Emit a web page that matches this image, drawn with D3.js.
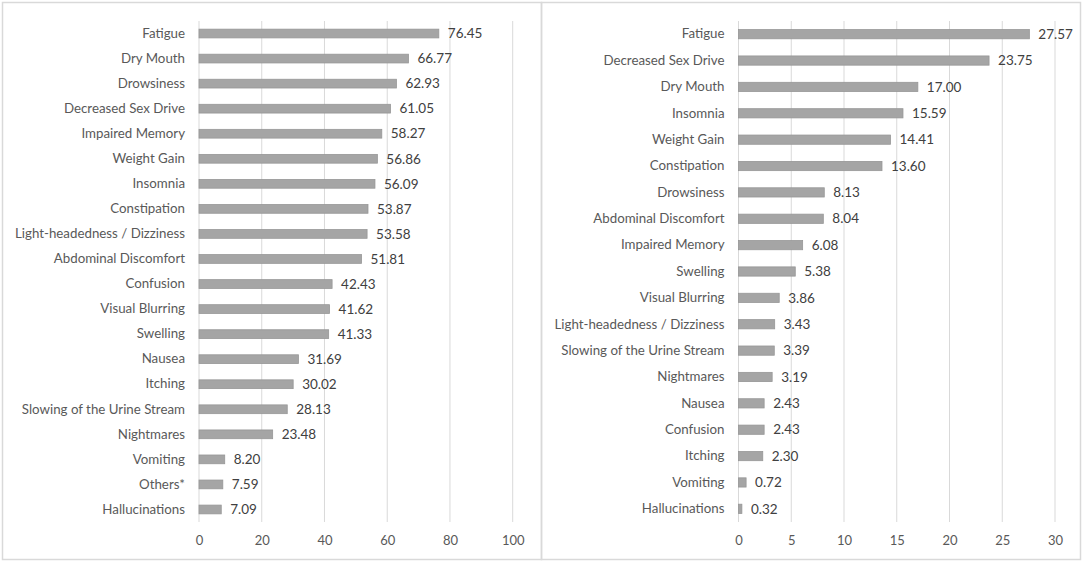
<!DOCTYPE html>
<html>
<head>
<meta charset="utf-8">
<script src="https://cdn.jsdelivr.net/npm/d3@7"></script>
<style>
  body { margin: 0; background: #fff; }
  svg { display: block; font-family: Lato, "Open Sans", sans-serif; }
</style>
</head>
<body>
<div id="chart"></div>
<script>
// left panel: all respondents
const leftCategories = ["Fatigue", "Dry Mouth", "Drowsiness", "Decreased Sex Drive", "Impaired Memory",
  "Weight Gain", "Insomnia", "Constipation", "Light-headedness / Dizziness", "Abdominal Discomfort",
  "Confusion", "Visual Blurring", "Swelling", "Nausea", "Itching", "Slowing of the Urine Stream",
  "Nightmares", "Vomiting", "Others*", "Hallucinations"];
const leftValues = [76.45, 66.77, 62.93, 61.05, 58.27, 56.86, 56.09, 53.87, 53.58, 51.81,
  42.43, 41.62, 41.33, 31.69, 30.02, 28.13, 23.48, 8.20, 7.59, 7.09];
const leftTicks = [0, 20, 40, 60, 80, 100];

// right panel
const rightCategories = ["Fatigue", "Decreased Sex Drive", "Dry Mouth", "Insomnia", "Weight Gain",
  "Constipation", "Drowsiness", "Abdominal Discomfort", "Impaired Memory", "Swelling",
  "Visual Blurring", "Light-headedness / Dizziness", "Slowing of the Urine Stream", "Nightmares",
  "Nausea", "Confusion", "Itching", "Vomiting", "Hallucinations"];
const rightValues = [27.57, 23.75, 17.00, 15.59, 14.41, 13.60, 8.13, 8.04, 6.08, 5.38,
  3.86, 3.43, 3.39, 3.19, 2.43, 2.43, 2.30, 0.72, 0.32];
const rightTicks = [0, 5, 10, 15, 20, 25, 30];

const width = 1084, height = 564;

const svg = d3.select("#chart").append("svg")
  .attr("width", width)
  .attr("height", height);

function drawPanel(opts) {
  const { x0, x1, plotLeft, plotRight, cats, vals, ticks, maxV } = opts;
  const top = 21, bottom = 522;

  // panel frame
  svg.append("rect")
    .attr("x", x0).attr("y", 2.5)
    .attr("width", x1 - x0).attr("height", 557)
    .attr("fill", "none")
    .attr("stroke", "#d9d9d9")
    .attr("stroke-width", 1.5);

  const x = d3.scaleLinear().domain([0, maxV]).range([plotLeft, plotRight]);
  const y = d3.scaleBand().domain(cats).range([top, bottom]).paddingInner(0.65).paddingOuter(0.325);

  const g = svg.append("g");

  // gridlines
  g.selectAll(".grid")
    .data(ticks)
    .enter().append("line")
    .attr("class", "grid")
    .attr("x1", d => x(d)).attr("x2", d => x(d))
    .attr("y1", top).attr("y2", bottom)
    .attr("stroke", "#d9d9d9")
    .attr("stroke-width", 1);

  // bars
  g.selectAll(".bar")
    .data(vals)
    .enter().append("rect")
    .attr("class", "bar")
    .attr("x", x(0))
    .attr("y", (d, i) => y(cats[i]))
    .attr("width", d => x(d) - x(0))
    .attr("height", y.bandwidth())
    .attr("fill", "#a5a5a5")
    .attr("stroke", "#979797")
    .attr("stroke-width", 0.8);

  // value labels
  g.selectAll(".val")
    .data(vals)
    .enter().append("text")
    .attr("class", "val")
    .attr("x", d => x(d) + 9)
    .attr("y", (d, i) => y(cats[i]) + y.bandwidth() / 2)
    .attr("dy", "0.35em")
    .style("font-size", "13.5px")
    .attr("fill", "#404040")
    .text(d => d.toFixed(2));

  // category labels
  const yAxis = d3.axisLeft(y).tickSize(0).tickPadding(14);
  g.append("g")
    .attr("transform", `translate(${x(0)},0)`)
    .call(yAxis)
    .call(s => s.select(".domain").remove())
    .call(s => s.selectAll("text")
      .style("font-size", "13.3px")
      .style("font-family", "Lato, 'Open Sans', sans-serif")
      .attr("fill", "#595959"));

  // x tick labels
  const xAxis = d3.axisBottom(x).tickValues(ticks).tickSize(0).tickPadding(14);
  g.append("g")
    .attr("transform", `translate(0,${bottom})`)
    .call(xAxis)
    .call(s => s.select(".domain").remove())
    .call(s => s.selectAll("text")
      .style("font-size", "13px")
      .style("font-family", "Lato, 'Open Sans', sans-serif")
      .attr("fill", "#595959"));
}

drawPanel({
  x0: 2.5, x1: 541.5, plotLeft: 199, plotRight: 512.7,
  cats: leftCategories, vals: leftValues, ticks: leftTicks, maxV: 100
});

drawPanel({
  x0: 541.5, x1: 1080.5, plotLeft: 738.5, plotRight: 1055,
  cats: rightCategories, vals: rightValues, ticks: rightTicks, maxV: 30
});
</script>
</body>
</html>
